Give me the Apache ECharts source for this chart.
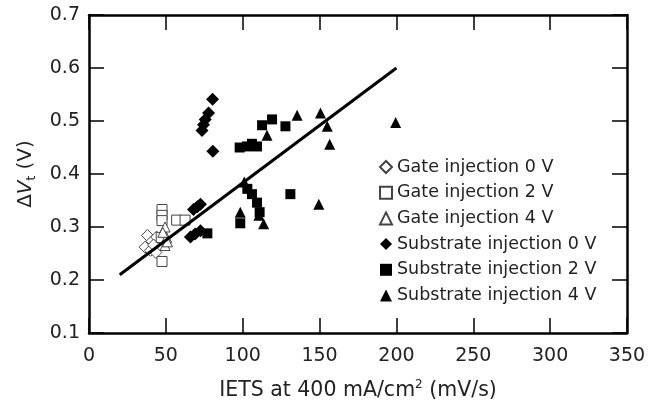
<!DOCTYPE html>
<html>
<head>
<meta charset="utf-8">
<script src="https://cdn.jsdelivr.net/npm/echarts@6/dist/echarts.min.js"></script>
<style>html,body{margin:0;padding:0;background:#fff}#c{width:649px;height:411px}</style>
</head>
<body>
<div id="c"></div>
<script>
const seriesNames = ['Gate injection 0 V','Gate injection 2 V','Gate injection 4 V','Substrate injection 0 V','Substrate injection 2 V','Substrate injection 4 V'];
const gate0V = [[38,0.284],[41,0.273],[36.5,0.262],[40,0.256],[43.5,0.252],[44,0.281],[42,0.266]];
const gate2V = [[47.5,0.333],[47.5,0.322],[47.5,0.312],[57,0.313],[62.5,0.313],[47.5,0.235],[47,0.28]];
const gate4V = [[49.5,0.3],[50.5,0.28],[49.5,0.265],[48,0.29],[51,0.272]];
const sub0V = [[80.4,0.541],[77.8,0.515],[75.6,0.503],[74.5,0.493],[73.5,0.482],[80.6,0.443],[68,0.333],[70.5,0.338],[72.5,0.343],[66,0.281],[69,0.287],[72.5,0.293]];
const sub2V = [[98,0.45],[102.8,0.452],[106,0.457],[109.3,0.452],[112.6,0.492],[119.1,0.503],[127.8,0.49],[77,0.288],[98.4,0.307],[103,0.372],[106,0.362],[109.3,0.346],[111,0.328],[131,0.362]];
const sub4V = [[115.8,0.473],[135.4,0.511],[150.6,0.515],[155,0.49],[156.6,0.456],[199.5,0.497],[149.5,0.343],[98.4,0.328],[113.6,0.306],[101,0.385],[110.5,0.322]];
const fitLine = [[20,0.21],[200,0.6]];
const xAxisName = 'IETS at 400 mA/cm{sup|2} (mV/s)';
const yAxisName = '{d|Δ}{v|V}{s|t}{n| (V)}';

const FONT = 'DejaVu Sans';
const chart = echarts.init(document.getElementById('c'));
const axisLine = {show:true, onZero:false, lineStyle:{color:'#000', width:2.5}};
const axisTick = {show:true, inside:true, length:15, lineStyle:{color:'#000', width:1.5}};
const openStyle = {color:'#fff', borderColor:'#444', borderWidth:1, opacity:1};
const fillStyle = {color:'#000', opacity:1};
function sc(name, data, symbol, size, style){
  return {name, type:'scatter', data, symbol, symbolSize:size, itemStyle:style, xAxisIndex:0, yAxisIndex:0, z:2};
}
chart.setOption({
  animation:false,
  backgroundColor:'#fff',
  grid:{left:89, right:22, top:15, bottom:78},
  legend:{
    orient:'vertical', left:379, top:157, padding:0, itemGap:5.7,
    itemWidth:12, itemHeight:12,
    textStyle:{fontFamily:FONT, fontSize:17.5, color:'#222', lineHeight:20},
    data:seriesNames.map(n=>({name:n}))
  },
  xAxis:[
    {type:'value', min:0, max:350, interval:50, position:'bottom',
     axisLine, axisTick, splitLine:{show:false},
     axisLabel:{fontFamily:FONT, fontSize:19, color:'#222', margin:14},
     name:xAxisName, nameLocation:'middle', nameGap:46,
     nameTextStyle:{fontFamily:FONT, fontSize:20.5, color:'#222',
       rich:{sup:{fontFamily:FONT, fontSize:12, color:'#222', verticalAlign:'top', lineHeight:24}}}},
    {type:'value', min:0, max:350, interval:50, position:'top',
     axisLine, axisTick, axisLabel:{show:false}, splitLine:{show:false}}
  ],
  yAxis:[
    {type:'value', min:0.1, max:0.7, interval:0.1, position:'left',
     axisLine, axisTick, splitLine:{show:false},
     axisLabel:{fontFamily:FONT, fontSize:19, color:'#222', margin:9, formatter:v=>v.toFixed(1)},
     name:yAxisName, nameLocation:'middle', nameGap:51, nameRotate:90,
     nameTextStyle:{fontFamily:FONT, fontSize:20, color:'#222',
       rich:{
         d:{fontFamily:FONT, fontSize:20, color:'#222', lineHeight:24},
         v:{fontFamily:FONT, fontSize:20, fontStyle:'italic', color:'#222', lineHeight:24},
         s:{fontFamily:FONT, fontSize:12, color:'#222', verticalAlign:'bottom', lineHeight:13},
         n:{fontFamily:FONT, fontSize:20, color:'#222', lineHeight:24}
       }}},
    {type:'value', min:0.1, max:0.7, interval:0.1, position:'right',
     axisLine, axisTick, axisLabel:{show:false}, splitLine:{show:false}}
  ],
  series:[
    sc(seriesNames[0], gate0V, 'diamond', 12, openStyle),
    sc(seriesNames[1], gate2V, 'rect', 10, openStyle),
    sc(seriesNames[2], gate4V, 'triangle', 10, openStyle),
    sc(seriesNames[3], sub0V, 'diamond', 13, fillStyle),
    sc(seriesNames[4], sub2V, 'rect', 10, fillStyle),
    sc(seriesNames[5], sub4V, 'triangle', 11, fillStyle),
    {type:'line', data:fitLine, showSymbol:false, symbol:'none', lineStyle:{color:'#000', width:3}, z:3, silent:true}
  ]
});
</script>
</body>
</html>
